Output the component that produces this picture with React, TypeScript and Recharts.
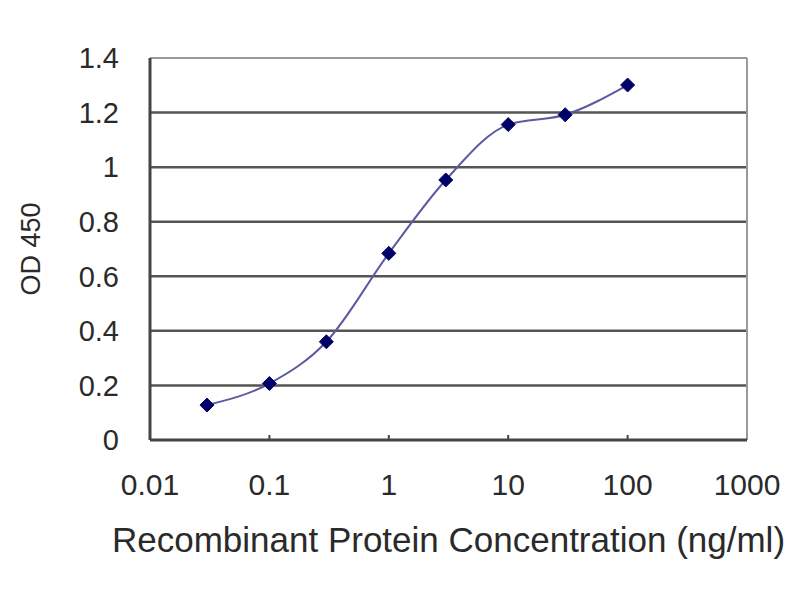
import {
  LineChart,
  Line,
  XAxis,
  YAxis,
  CartesianGrid,
  ReferenceLine,
} from 'recharts'

// concentration (ng/ml) and OD 450
const concentrations = [0.03, 0.1, 0.3, 1, 3, 10, 30, 100]
const odValues = [0.128, 0.207, 0.36, 0.684, 0.953, 1.156, 1.192, 1.301]

const xTicks = [0.01, 0.1, 1, 10, 100, 1000]
const xTickLabels = ['0.01', '0.1', '1', '10', '100', '1000']
const yTicks = [0, 0.2, 0.4, 0.6, 0.8, 1, 1.2, 1.4]
const gridValues = [0.2, 0.4, 0.6, 0.8, 1, 1.2]

const data = concentrations.map((c, i) => ({ conc: c, od: odValues[i] }))

const FONT = '"Liberation Sans", Arial, sans-serif'
const TEXT = '#2a2a2a'

function Diamond(props: any) {
  const { cx, cy } = props
  if (cx == null || cy == null) return null
  const r = 7
  return (
    <polygon
      points={`${cx},${cy - r} ${cx + r},${cy} ${cx},${cy + r} ${cx - r},${cy}`}
      fill="#000066"
      stroke="#000066"
      strokeWidth={1}
    />
  )
}

function XTick(props: any) {
  const { x, y, payload, index } = props
  const label = xTickLabels[xTicks.indexOf(payload.value)] ?? String(payload.value)
  const inner = index > 0 && index < xTicks.length - 1
  return (
    <g>
      {inner && <line x1={x} y1={y - 5} x2={x} y2={y} stroke="#444" strokeWidth={2} />}
      <text x={x} y={y + 55} textAnchor="middle" fontFamily={FONT} fontSize={30} fill={TEXT}>
        {label}
      </text>
    </g>
  )
}

function XTitle(props: any) {
  const { viewBox } = props
  const cx = viewBox.x + viewBox.width / 2
  return (
    <text x={cx} y={552} textAnchor="middle" fontFamily={FONT} fontSize={35} fill={TEXT}>
      Recombinant Protein Concentration (ng/ml)
    </text>
  )
}

function YTitle(props: any) {
  const { viewBox } = props
  const cy = viewBox.y + viewBox.height / 2
  return (
    <text
      x={40}
      y={cy}
      transform={`rotate(-90, 40, ${cy})`}
      textAnchor="middle"
      fontFamily={FONT}
      fontSize={27}
      fill={TEXT}
    >
      OD 450
    </text>
  )
}

export default function App() {
  return (
    <div style={{ position: 'absolute', left: 0, top: 0, width: 800, height: 600, background: '#fff' }}>
      <LineChart
        width={800}
        height={600}
        data={data}
        margin={{ top: 58, right: 53, bottom: 0, left: 0 }}
      >
        <CartesianGrid
          horizontal
          vertical={false}
          horizontalValues={gridValues}
          stroke="#555"
          strokeWidth={2.5}
        />
        <ReferenceLine y={1.4} stroke="#999" strokeWidth={2} />
        <ReferenceLine x={1000} stroke="#999" strokeWidth={2} />
        <XAxis
          dataKey="conc"
          type="number"
          scale="log"
          domain={[0.01, 1000]}
          ticks={xTicks}
          allowDataOverflow
          height={160}
          tickSize={0}
          tickMargin={0}
          tick={<XTick />}
          axisLine={{ stroke: '#444', strokeWidth: 3 }}
          tickLine={false}
          interval={0}
          label={<XTitle />}
        />
        <YAxis
          type="number"
          domain={[0, 1.4]}
          ticks={yTicks}
          width={150}
          tickSize={0}
          tickMargin={31}
          tickLine={false}
          interval={0}
          tickFormatter={(v: number) => String(v)}
          tick={{ fontSize: 29, fontFamily: FONT, fill: TEXT }}
          axisLine={{ stroke: '#444', strokeWidth: 3 }}
          label={<YTitle />}
        />
        <Line
          dataKey="od"
          type="monotone"
          stroke="#5a5aa0"
          strokeWidth={2}
          dot={<Diamond />}
          activeDot={false}
          isAnimationActive={false}
        />
      </LineChart>
    </div>
  )
}
